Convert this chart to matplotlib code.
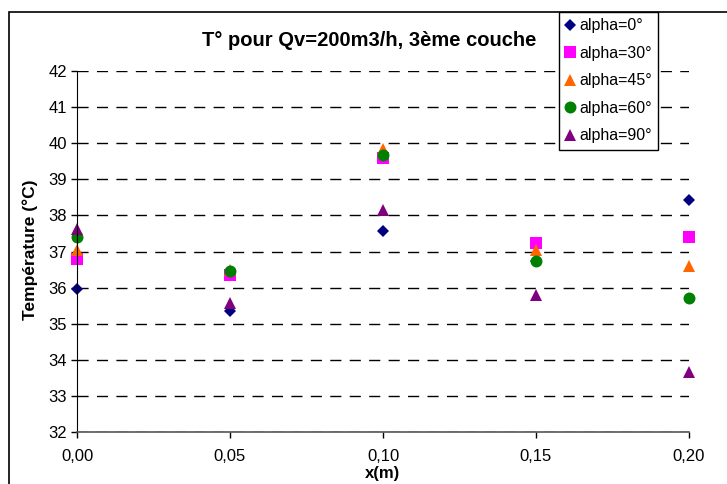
import matplotlib
matplotlib.use("Agg")
import matplotlib.pyplot as plt
from matplotlib.patches import Rectangle
from matplotlib.ticker import FuncFormatter, MultipleLocator

plt.rcParams['font.family'] = ['Liberation Sans', 'DejaVu Sans']

# Data
x_pos = [0.00, 0.05, 0.10, 0.15, 0.20]
t_alpha0 = [35.97, 35.35, 37.57, 36.75, 38.42]
t_alpha30 = [36.78, 36.35, 39.60, 37.23, 37.40]
t_alpha45 = [37.05, 36.48, 39.85, 37.05, 36.60]
t_alpha60 = [37.40, 36.45, 39.68, 36.75, 35.70]
t_alpha90 = [37.62, 35.58, 38.15, 35.80, 33.65]

labels = ["alpha=0°", "alpha=30°", "alpha=45°", "alpha=60°", "alpha=90°"]
series = [t_alpha0, t_alpha30, t_alpha45, t_alpha60, t_alpha90]
markers = ["D", "s", "^", "o", "^"]
colors = ["#000080", "#FF00FF", "#FF6600", "#008000", "#800080"]
sizes = [6.2, 8.6, 9.2, 8.6, 9.2]

W, H = 727, 484
fig = plt.figure(figsize=(W / 100, H / 100), dpi=100)
ax = fig.add_axes([77 / W, 1 - 432 / H, (689 - 77) / W, (432 - 71) / H])

handles = []
for vals, m, c, s, lab in zip(series, markers, colors, sizes, labels):
    h, = ax.plot(x_pos, vals, linestyle="none", marker=m, color=c,
                 markersize=s, markeredgewidth=0, label=lab, clip_on=False)
    handles.append(h)

ax.set_xlim(0, 0.20)
ax.set_ylim(32, 42)
ax.xaxis.set_major_locator(MultipleLocator(0.05))
ax.yaxis.set_major_locator(MultipleLocator(1))
ax.xaxis.set_major_formatter(FuncFormatter(lambda v, p: f"{v:.2f}".replace(".", ",")))
ax.tick_params(axis="both", labelsize=12, direction="out", length=4, width=1, colors="black")
ax.tick_params(axis="x", pad=8)
ax.tick_params(axis="y", pad=3)
ax.grid(axis="y", color="black", linestyle=(0, (8, 6)), linewidth=1)
ax.set_axisbelow(True)

for sp in ["top", "right"]:
    ax.spines[sp].set_visible(False)
ax.spines["left"].set_color("black")
ax.spines["bottom"].set_color("#555555")
ax.spines["bottom"].set_linewidth(1.2)

fig.text(383 / W, 1 - 481 / H, "x(m)", ha="center", va="bottom", fontsize=12, fontweight="bold")
fig.text(30 / W, 1 - 250 / H, "Température (°C)", ha="center", va="center",
         rotation=90, fontsize=12.5, fontweight="bold")
fig.text(369 / W, 1 - 40 / H, "T° pour Qv=200m3/h, 3ème couche", ha="center", va="center",
         fontsize=14.5, fontweight="bold")

# outer chart frame
fig.patches.append(Rectangle((9 / W, -0.1), 1.2, 1 - 12 / H + 0.1, transform=fig.transFigure,
                             fill=False, edgecolor="black", linewidth=1.2))

leg = fig.legend(handles=handles, loc="upper left", bbox_to_anchor=(559 / W, 1 - 12 / H),
                 bbox_transform=fig.transFigure, borderaxespad=0, fancybox=False,
                 edgecolor="black", framealpha=1, fontsize=11.5, handlelength=0.6,
                 handletextpad=0.25, labelspacing=0.78, borderpad=0.4)
leg.get_frame().set_linewidth(1)

fig.savefig("out.png", dpi=100)
